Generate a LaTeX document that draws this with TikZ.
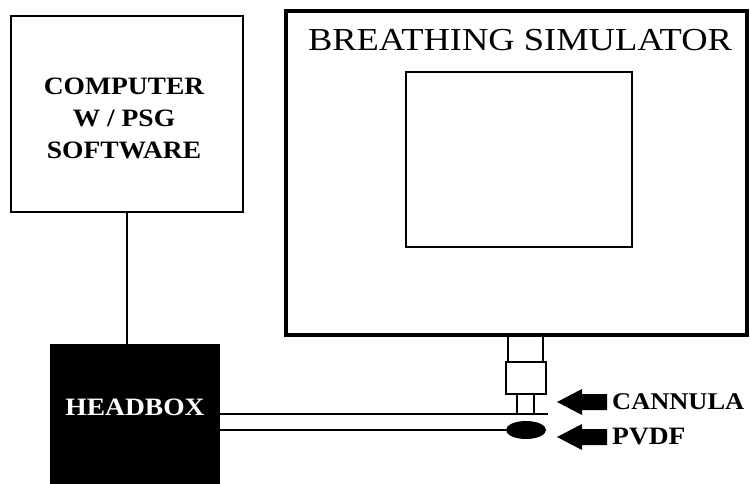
\documentclass[tikz,border=0pt]{standalone}
\usepackage{fontspec}
\setmainfont{Liberation Serif}
\newfontfamily\widebold[FakeStretch=1.1]{Liberation Serif Bold}
\newfontfamily\widereg[FakeStretch=1.14]{Liberation Serif}
\usetikzlibrary{shapes.geometric}
\begin{document}
\begin{tikzpicture}[x=1pt,y=-1pt,
  box/.style={draw=black,line width=2pt,rectangle,inner sep=0pt},
  lbl/.style={font=\widebold\fontsize{25}{32}\selectfont,align=center,inner sep=0pt},
  wire/.style={line width=1.8pt},
  pointer/.style={fill=black}]
\useasboundingbox (0,0) rectangle (750,484);
% computer
\node[box,minimum width=232pt,minimum height=196pt] (comp) at (127,114) {};
\node[lbl] (comptxt) at (124,118) {COMPUTER\\W / PSG\\SOFTWARE};
% headbox
\node[rectangle,fill=black,inner sep=0pt,minimum width=170pt,minimum height=142pt] (head) at (135,415) {};
\node[lbl,text=white] (headtxt) at (135,407) {HEADBOX};
\draw[wire] (comp.south) -- (comp.south |- head.north);
% simulator
\node[draw=black,line width=3.5pt,rectangle,inner sep=0pt,minimum width=461pt,minimum height=324pt] (sim) at (516.5,173) {};
\node[box,minimum width=226pt,minimum height=175pt] (inner) at (519,159.5) {};
\node[font=\widereg\fontsize{32}{36}\selectfont,inner sep=0pt] (title) at (520,40) {BREATHING SIMULATOR};
% tube
\coordinate (t1) at (508,362);
\coordinate (t2) at (543,362);
\draw[wire] (t1 |- sim.south) -- (t1);
\draw[wire] (t2 |- sim.south) -- (t2);
\node[box,minimum width=40pt,minimum height=32pt] (conn) at (526,378) {};
\coordinate (p1) at (517,415);
\coordinate (p2) at (534,415);
\draw[wire] (p1 |- conn.south) -- (p1);
\draw[wire] (p2 |- conn.south) -- (p2);
\coordinate (cend) at (548,414);
\draw[wire] (head.east |- cend) -- (cend);
% pvdf
\node[ellipse,fill=black,minimum width=40pt,minimum height=18pt,inner sep=0pt] (pvdf) at (526,430) {};
\draw[wire] (head.east |- pvdf.west) -- (pvdf.west);
% arrows
\fill[pointer] (557,402) -- (582,389) -- (582,394) -- (607,394) -- (607,410) -- (582,410) -- (582,415) -- cycle;
\fill[pointer] (557,437) -- (582,424) -- (582,429) -- (607,429) -- (607,445) -- (582,445) -- (582,450) -- cycle;
\node[lbl,font=\widebold\fontsize{24}{30}\selectfont,anchor=west] (cantxt) at (612,402) {CANNULA};
\node[lbl,anchor=west] (pvdftxt) at (612,437) {PVDF};
\end{tikzpicture}
\end{document}
